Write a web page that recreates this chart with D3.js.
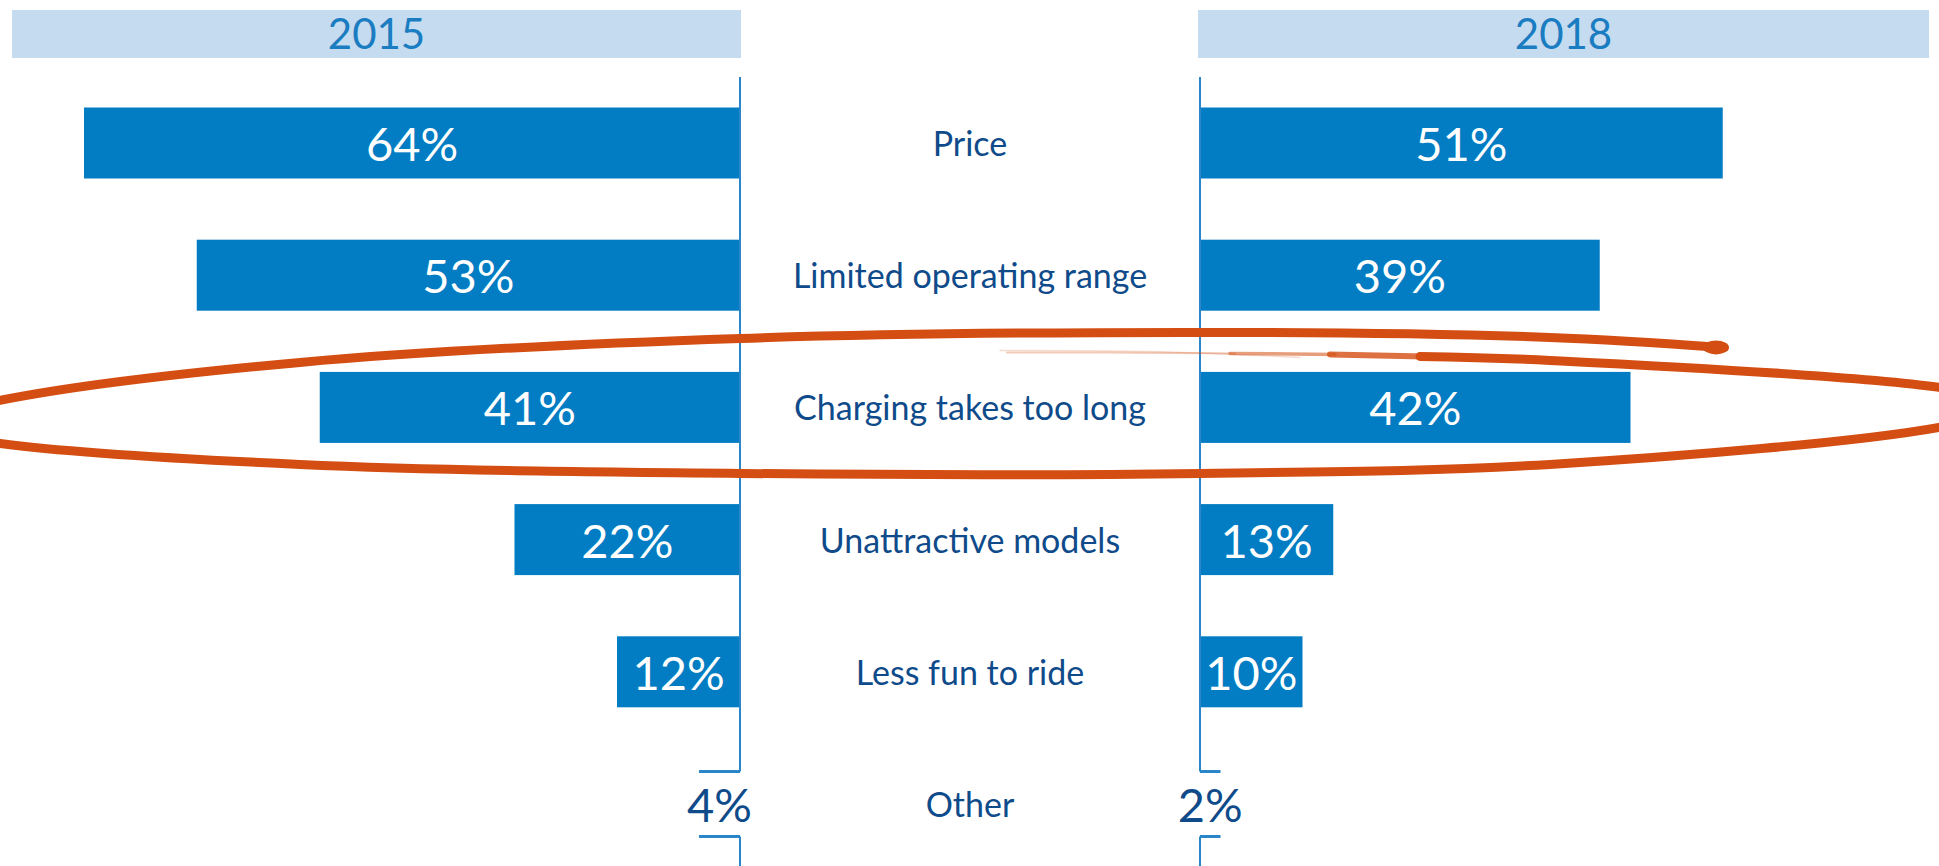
<!DOCTYPE html>
<html>
<head>
<meta charset="utf-8">
<script src="https://cdn.jsdelivr.net/npm/d3@7"></script>
<style>
  html, body { margin: 0; padding: 0; background: #ffffff; }
  svg { display: block; }
  text { font-family: Lato, "Open Sans", sans-serif; }
</style>
</head>
<body>
<svg id="chart" width="1939" height="866"></svg>
<script>
// ---- Data ----
const categories = ["Price", "Limited operating range", "Charging takes too long", "Unattractive models", "Less fun to ride", "Other"];
const years = ["2015", "2018"];
const values2015 = [64, 53, 41, 22, 12, 4];
const values2018 = [51, 39, 42, 13, 10, 2];
const bracketCategory = "Other";
const highlightedCategory = "Charging takes too long";

// ---- Styles ----
const W = 1939, H = 866;
const barColor = "#027cc2";
const axisColor = "#2a86c8";
const headerFill = "#c5dbef";
const headerText = "#1a7cc1";
const labelColor = "#0f4b8a";
const annotColor = "#d44e13";

const svg = d3.select("#chart");

// ---- Scales ----
const leftAxisX = 740, rightAxisX = 1200;
const pxPerPct = 10.25;
const xLeft = d3.scaleLinear().domain([0, 100]).range([leftAxisX, leftAxisX - 100 * pxPerPct]);
const xRight = d3.scaleLinear().domain([0, 100]).range([rightAxisX, rightAxisX + 100 * pxPerPct]);
const y = d3.scalePoint().domain(categories).range([143, 804]);
const barH = 71;

// ---- Headers ----
const headers = [
  { year: years[0], x0: 12, x1: 741 },
  { year: years[1], x0: 1198, x1: 1929 }
];
svg.selectAll("rect.header").data(headers).join("rect")
  .attr("class", "header")
  .attr("x", d => d.x0).attr("y", 10)
  .attr("width", d => d.x1 - d.x0).attr("height", 48)
  .attr("fill", headerFill);
svg.selectAll("text.header").data(headers).join("text")
  .attr("class", "header")
  .attr("x", d => (d.x0 + d.x1) / 2).attr("y", 49)
  .attr("text-anchor", "middle")
  .attr("font-size", 42)
  .attr("fill", headerText)
  .text(d => d.year);

// ---- Rows ----
const rows = categories.map((c, i) => ({ cat: c, v15: values2015[i], v18: values2018[i] }));
const barRows = rows.filter(r => r.cat !== bracketCategory);
const bracketRows = rows.filter(r => r.cat === bracketCategory);

// left bars (2015)
svg.selectAll("rect.b15").data(barRows).join("rect")
  .attr("class", "b15")
  .attr("x", d => xLeft(d.v15)).attr("y", d => y(d.cat) - barH / 2)
  .attr("width", d => xLeft(0) - xLeft(d.v15)).attr("height", barH)
  .attr("fill", barColor);
// right bars (2018)
svg.selectAll("rect.b18").data(barRows).join("rect")
  .attr("class", "b18")
  .attr("x", xRight(0)).attr("y", d => y(d.cat) - barH / 2)
  .attr("width", d => xRight(d.v18) - xRight(0)).attr("height", barH)
  .attr("fill", barColor);

// axis lines (broken around bracket rows)
const axisTop = 77, axisBottom = H;
function axisSegments() {
  const segs = [];
  let start = axisTop;
  bracketRows.forEach(r => {
    const c = y(r.cat);
    segs.push([start, c - barH / 2 + 3]);
    start = c + barH / 2 - 3;
  });
  segs.push([start, axisBottom]);
  return segs;
}
[leftAxisX, rightAxisX].forEach(ax => {
  svg.selectAll(null).data(axisSegments()).join("line")
    .attr("x1", ax).attr("x2", ax)
    .attr("y1", d => d[0]).attr("y2", d => d[1])
    .attr("stroke", axisColor).attr("stroke-width", 2);
});

// bracket ticks for "Other"
bracketRows.forEach(r => {
  const c = y(r.cat);
  [c - barH / 2 + 3, c + barH / 2 - 3].forEach(ty => {
    svg.append("line")
      .attr("x1", xLeft(r.v15)).attr("x2", xLeft(0))
      .attr("y1", ty).attr("y2", ty)
      .attr("stroke", axisColor).attr("stroke-width", 3);
    svg.append("line")
      .attr("x1", xRight(0)).attr("x2", xRight(r.v18))
      .attr("y1", ty).attr("y2", ty)
      .attr("stroke", axisColor).attr("stroke-width", 3);
  });
});

// value labels
const valFont = 47;
svg.selectAll("text.v15").data(rows).join("text")
  .attr("class", "v15")
  .attr("x", d => (xLeft(d.v15) + xLeft(0)) / 2)
  .attr("y", d => y(d.cat) + 18)
  .attr("text-anchor", "middle")
  .attr("font-size", valFont)
  .attr("fill", d => d.cat === bracketCategory ? labelColor : "#ffffff")
  .text(d => d.v15 + "%");
svg.selectAll("text.v18").data(rows).join("text")
  .attr("class", "v18")
  .attr("x", d => (xRight(0) + xRight(d.v18)) / 2)
  .attr("y", d => y(d.cat) + 18)
  .attr("text-anchor", "middle")
  .attr("font-size", valFont)
  .attr("fill", d => d.cat === bracketCategory ? labelColor : "#ffffff")
  .text(d => d.v18 + "%");

// category labels
svg.selectAll("text.cat").data(rows).join("text")
  .attr("class", "cat")
  .attr("x", (leftAxisX + rightAxisX) / 2)
  .attr("y", d => y(d.cat) + 13)
  .attr("text-anchor", "middle")
  .attr("font-size", 34)
  .attr("fill", labelColor)
  .text(d => d.cat);

// ---- Hand-drawn highlight loop around highlighted row ----
const hc = y(highlightedCategory);
const loopPts = [
  [1722, -60], [1550, -70], [1200, -75], [740, -69], [300, -45], [0, -7],
  [-90, 18], [0, 36], [300, 57], [740, 66], [1200, 66], [1550, 57], [1939, 20],
  [2020, -2], [1939, -20], [1550, -47], [1420, -51]
].map(p => [p[0], hc + p[1]]);
const lineGen = d3.line().curve(d3.curveCatmullRom.alpha(0.5));
svg.append("path")
  .attr("d", lineGen(loopPts))
  .attr("fill", "none")
  .attr("stroke", annotColor)
  .attr("stroke-width", 9)
  .attr("stroke-linecap", "round")
  .attr("stroke-linejoin", "round");
svg.append("ellipse")
  .attr("cx", 1716).attr("cy", hc - 60)
  .attr("rx", 13).attr("ry", 7)
  .attr("fill", annotColor);
// tapering, fading end of the pen stroke
const taper = [
  { pts: [[1425, -51], [1330, -53]], w: 6, o: 0.8 },
  { pts: [[1335, -53], [1230, -54]], w: 3.5, o: 0.55 },
  { pts: [[1235, -54], [1100, -55], [1007, -55]], w: 2, o: 0.3 },
  { pts: [[1300, -50], [1150, -57], [1000, -57]], w: 1.5, o: 0.2 }
];
taper.forEach(t => {
  svg.append("path")
    .attr("d", d3.line().curve(d3.curveBasis)(t.pts.map(p => [p[0], hc + p[1]])))
    .attr("fill", "none").attr("stroke", annotColor)
    .attr("stroke-linecap", "round")
    .attr("stroke-width", t.w).attr("stroke-opacity", t.o);
});
</script>
</body>
</html>
